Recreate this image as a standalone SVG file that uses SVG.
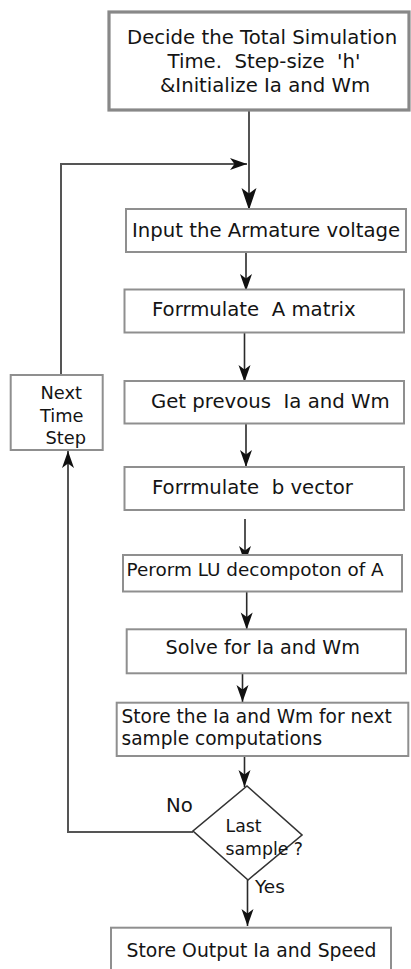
<svg xmlns="http://www.w3.org/2000/svg" width="411" height="969" viewBox="0 0 411 969">
<style>
text{font-family:"DejaVu Sans","Liberation Sans",sans-serif;font-size:19.7px;fill:#141414}
.sm{font-size:17.8px}
.box{fill:#fff;stroke:#8f8f8f;stroke-width:2}
.top{fill:#fff;stroke:#888;stroke-width:3.2}
.dia{fill:#fff;stroke:#333;stroke-width:1.6}
.ln{fill:none;stroke:#2a2a2a;stroke-width:1.6}
.lp{fill:none;stroke:#555;stroke-width:2}
</style>
<defs>
<marker id="ah" markerUnits="userSpaceOnUse" markerWidth="18" markerHeight="14" refX="17" refY="6" orient="auto" overflow="visible">
<path d="M0,0 L17,6 L0,12 L4.5,6 Z" fill="#111"/>
</marker>
<marker id="ahb" markerUnits="userSpaceOnUse" markerWidth="24" markerHeight="16" refX="22" refY="7.5" orient="auto" overflow="visible">
<path d="M0,0 L22,7.5 L0,15 L5.5,7.5 Z" fill="#111"/>
</marker>
</defs>
<rect width="411" height="969" fill="#fff"/>
<g id="connectors">
<path class="ln" d="M249,110 V210" marker-end="url(#ahb)"/>
<path class="lp" d="M61,375 V164 H247" marker-end="url(#ah)"/>
<path class="ln" d="M246,252 V291" marker-end="url(#ah)"/>
<path class="ln" d="M244.5,333 V382" marker-end="url(#ah)"/>
<path class="ln" d="M246,423 V467" marker-end="url(#ah)"/>
<path class="ln" d="M245,519 V563" marker-end="url(#ah)"/>
<path class="ln" d="M246.7,588 V629.5" marker-end="url(#ah)"/>
<path class="ln" d="M242.5,673 V702" marker-end="url(#ah)"/>
<path class="ln" d="M244.5,756 V787" marker-end="url(#ah)"/>
<path class="lp" d="M193,832 H68 V451" marker-end="url(#ah)"/>
<path class="ln" d="M247.5,880 V926" marker-end="url(#ah)"/>
</g>
<g id="n_init">
<rect class="top" x="109" y="12" width="300" height="98"/>
<text x="127" y="43.5">Decide the Total Simulation</text>
<text x="167.5" y="67.5" xml:space="preserve">Time.  Step-size  'h'</text>
<text x="160" y="91.5">&amp;Initialize Ia and Wm</text>
</g>
<g id="n_input">
<rect class="box" x="126" y="209" width="280" height="43"/>
<text x="132" y="237">Input the Armature voltage</text>
</g>
<g id="n_amatrix">
<rect class="box" x="124.5" y="289.5" width="279.5" height="43"/>
<text x="152" y="316" xml:space="preserve">Forrmulate  A matrix</text>
</g>
<g id="n_prev">
<rect class="box" x="124.5" y="381" width="279.5" height="42.5"/>
<text x="151" y="408" xml:space="preserve">Get prevous  Ia and Wm</text>
</g>
<g id="n_bvector">
<rect class="box" x="124.5" y="467" width="279.5" height="43"/>
<text x="152" y="494" xml:space="preserve">Forrmulate  b vector</text>
</g>
<g id="n_lu">
<rect class="box" x="123" y="555" width="279" height="36.5"/>
<text x="126.5" y="575.5" style="font-size:18.4px">Perorm LU decompoton of A</text>
</g>
<g id="n_solve">
<rect class="box" x="126.7" y="629.3" width="279.3" height="44"/>
<text x="165.5" y="654" style="font-size:19.2px">Solve for Ia and Wm</text>
</g>
<g id="n_store">
<rect class="box" x="116.7" y="702.7" width="291.6" height="53.3"/>
<text x="121.5" y="722.5" style="font-size:18.6px">Store the Ia and Wm for next</text>
<text x="121.5" y="745" style="font-size:18.6px">sample computations</text>
</g>
<g id="n_last">
<polygon class="dia" points="247,786 302,835 248,880 193,831"/>
<text class="sm" x="225.5" y="832" style="font-size:17.3px">Last</text>
<text class="sm" x="225.5" y="855" style="font-size:17.3px">sample ?</text>
</g>
<g id="n_next">
<rect class="box" x="10.7" y="375" width="92" height="75"/>
<text class="sm" x="40.5" y="399">Next</text>
<text class="sm" x="40" y="421.5">Time</text>
<text class="sm" x="45.5" y="444">Step</text>
</g>
<g id="n_output">
<rect class="box" x="111" y="927.7" width="280" height="50"/>
<text x="126.5" y="956.5" style="font-size:18.8px">Store Output Ia and Speed</text>
</g>
<g id="labels">
<text x="166" y="812">No</text>
<text x="255" y="892.5" style="font-size:18.5px">Yes</text>
</g>
</svg>
